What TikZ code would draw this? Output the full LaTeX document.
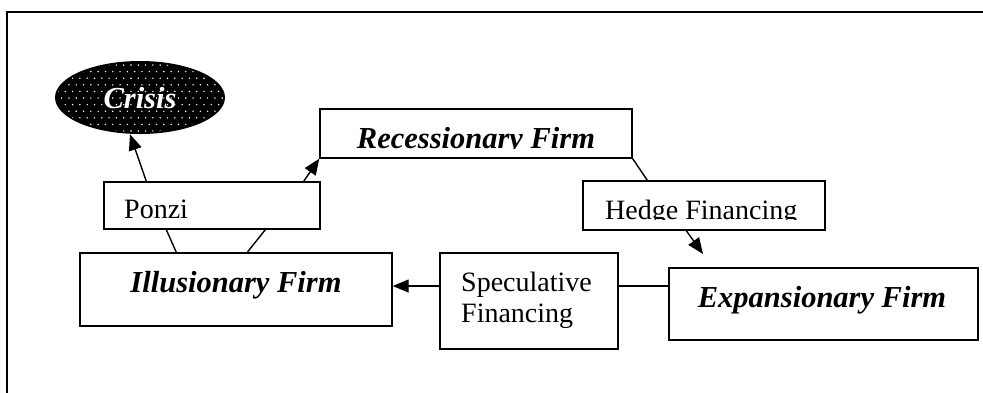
\documentclass[tikz,border=0pt]{standalone}
\usepackage{fontspec}
\setmainfont{Liberation Serif}
\usetikzlibrary{arrows.meta,shapes.geometric,calc}
\begin{document}
\begin{tikzpicture}[x=1pt,y=-1pt,
  boxs/.style={draw,line width=1.4pt,rectangle,inner sep=0pt},
  txt/.style={inner sep=0pt,font=\fontsize{28}{33}\selectfont},
  btxt/.style={inner sep=0pt,font=\fontsize{30.5}{36}\selectfont\bfseries\itshape},
  arr/.style={line width=1.4pt,-{Triangle[length=16pt,width=13pt]}},
  con/.style={line width=1.4pt}]
\useasboundingbox (0,0) rectangle (983,392);
\draw[line width=2pt] (7,400) -- (7,12) -- (983,12);

% Crisis ellipse with dotted fill
\node[ellipse,fill=black,minimum width=170pt,minimum height=73pt,inner sep=0pt] (crisis) at (140,97.5) {};
\begin{scope}
  \clip (140,97.5) ellipse [x radius=83pt, y radius=34.5pt];
  \foreach \r in {0,...,11} {
    \foreach \c in {0,...,24} {
      \fill[white] ({58+\c*7.3+mod(\r,2)*3.65},{65+\r*6.6}) circle[radius=0.8pt];
    }
  }
\end{scope}
\node[btxt,text=white,anchor=base] (crisist) at (140,108) {Crisis};

% boxes
\node[boxs,minimum width=216pt,minimum height=47pt] (ponzi) at (212,205.5) {};
\node[boxs,minimum width=312pt,minimum height=49pt] (rec) at (476,133.5) {};
\node[boxs,minimum width=242pt,minimum height=49pt] (hedge) at (704,205.5) {};
\node[boxs,minimum width=312pt,minimum height=73pt] (ill) at (236,289.5) {};
\node[boxs,minimum width=178pt,minimum height=96pt] (spec) at (529,301) {};
\node[boxs,minimum width=309pt,minimum height=72pt] (exp) at (823.5,304) {};

% texts
\node[txt,anchor=base west] (ponzit) at (124,218) {Ponzi};
\begin{scope}
  \clip (320,109) rectangle (632,148.7);
  \node[btxt,anchor=base] (rect) at (476,148) {Recessionary Firm};
\end{scope}
\begin{scope}
  \clip (583,181) rectangle (825,219.5);
  \node[txt,anchor=base west] (hedget) at (605,219) {Hedge Financing};
\end{scope}
\node[btxt,anchor=base] (illt) at (236,292) {Illusionary Firm};
\node[txt,anchor=base west] (spect1) at (461,291) {Speculative};
\node[txt,anchor=base west] (spect2) at (461,322) {Financing};
\node[btxt,anchor=base] (expt) at (822,307) {Expansionary Firm};

% connectors
\coordinate (exptip) at (703,254);
\draw[arr] ([xshift=43pt]ponzi.north west) -- ([xshift=-10pt]crisis.south);
\draw[arr] ([xshift=-17pt]ponzi.north east) -- (rec.south west);
\draw[con] ([xshift=63pt]ponzi.south west) -- ([xshift=97pt]ill.north west);
\draw[con] ([xshift=162pt]ponzi.south west) -- ([xshift=168pt]ill.north west);
\draw[con] (rec.south east) -- ([xshift=65pt]hedge.north west);
\draw[arr] ([xshift=104pt]hedge.south west) -- (exptip);
\draw[arr] ([yshift=15pt]spec.west) -- ([yshift=15pt]spec.west -| ill.east);
\draw[con] ([yshift=15pt]spec.east) -- ([yshift=15pt]spec.east -| exp.west);
\end{tikzpicture}
\end{document}
